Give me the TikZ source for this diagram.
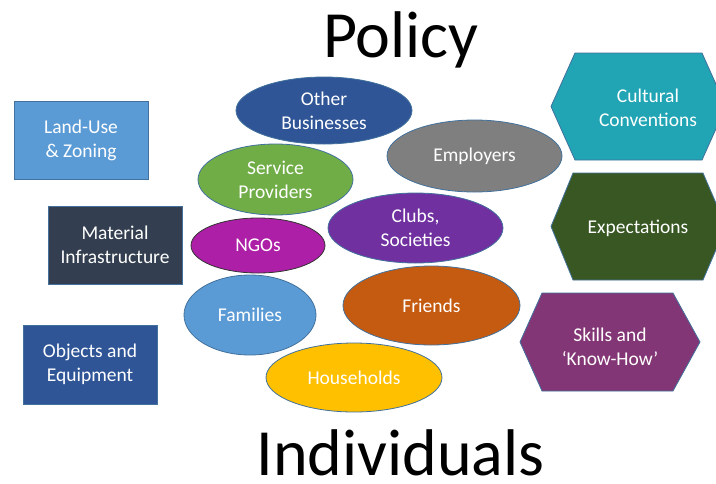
\documentclass[tikz,border=0pt]{standalone}
\usepackage{fontspec}
\setmainfont{Carlito}
\usetikzlibrary{shapes.geometric}
\definecolor{cLight}{HTML}{5B9BD5}
\definecolor{cDark}{HTML}{333F50}
\definecolor{cBlue}{HTML}{2F5597}
\definecolor{cGray}{HTML}{7F7F7F}
\definecolor{cGreen}{HTML}{70AD47}
\definecolor{cPurple}{HTML}{7030A0}
\definecolor{cMagenta}{HTML}{AE1FA7}
\definecolor{cOrange}{HTML}{C55A11}
\definecolor{cGold}{HTML}{FFC000}
\definecolor{cTeal}{HTML}{21A5B4}
\definecolor{cDGreen}{HTML}{385723}
\definecolor{cPlum}{HTML}{833675}
\definecolor{cEdge}{HTML}{41719C}
\tikzset{
  lbl/.style={text=white, align=center, font=\fontsize{19.5}{24}\selectfont},
  oval/.style={ellipse, inner sep=0pt, draw=cEdge, line width=0.8pt, lbl},
  boxnode/.style={rectangle, inner sep=0pt, draw=cEdge, line width=0.8pt, lbl},
  hexfill/.style={draw=cEdge, line width=0.8pt},
  title/.style={font=\fontsize{66}{70}\selectfont, text=black, inner sep=0pt, anchor=base}
}
\begin{document}
\begin{tikzpicture}[x=1pt,y=-1pt]
\clip (0,0) rectangle (716,483);
\fill[white] (0,0) rectangle (716,483);
% titles
\node[title] (policy) at (401,57) {Policy};
\node[title, text depth=0pt] (indiv) at (400.5,475) {Individuals};
% rectangles
\node[boxnode, fill=cLight, minimum width=134pt, minimum height=78pt] (land) at (81,140) {Land-Use\\\& Zoning};
\node[boxnode, fill=cDark, minimum width=134pt, minimum height=78pt] (mat) at (115,245) {Material\\Infrastructure};
\node[boxnode, fill=cBlue, minimum width=134pt, minimum height=79pt] (obj) at (90,364.5) {Objects and\\Equipment};
% ellipses
\node[oval, fill=cBlue, minimum width=176pt, minimum height=67pt] (other) at (324,110.5) {Other\\Businesses};
\node[oval, fill=cGray, minimum width=175pt, minimum height=72pt] (empl) at (474.5,156) {Employers};
\node[oval, fill=cGreen, minimum width=155pt, minimum height=71pt] (serv) at (275.5,179.5) {Service\\Providers};
\node[oval, fill=cPurple, minimum width=175pt, minimum height=70pt] (clubs) at (415.5,228) {Clubs,\\Societies};
\node[oval, fill=cMagenta, draw=black!80, minimum width=134pt, minimum height=55pt] (ngos) at (258,245.5) {NGOs};
\node[oval, fill=cLight, minimum width=132pt, minimum height=80pt] (fam) at (250,315) {Families};
\node[oval, fill=cOrange, minimum width=177pt, minimum height=79pt] (friends) at (431.5,305.5) {Friends};
\node[oval, fill=cGold, minimum width=176pt, minimum height=69pt] (house) at (354,377.5) {Households};
% hexagons
\fill[cTeal, hexfill] (551,106.5) -- (575,53) -- (702,53) -- (726,106.5) -- (702,160) -- (575,160) -- cycle;
\node[lbl] (cult) at (648,108) {Cultural\\Conventions};
\fill[cDGreen, hexfill] (551,226.5) -- (573,173) -- (703,173) -- (726,226.5) -- (703,280) -- (573,280) -- cycle;
\node[lbl] (expt) at (638,228) {Expectations};
\fill[cPlum, hexfill] (520,342) -- (542,293) -- (673,293) -- (700,342) -- (673,391) -- (542,391) -- cycle;
\node[lbl] (skills) at (610,347) {Skills and\\‘Know-How’};
\end{tikzpicture}
\end{document}
